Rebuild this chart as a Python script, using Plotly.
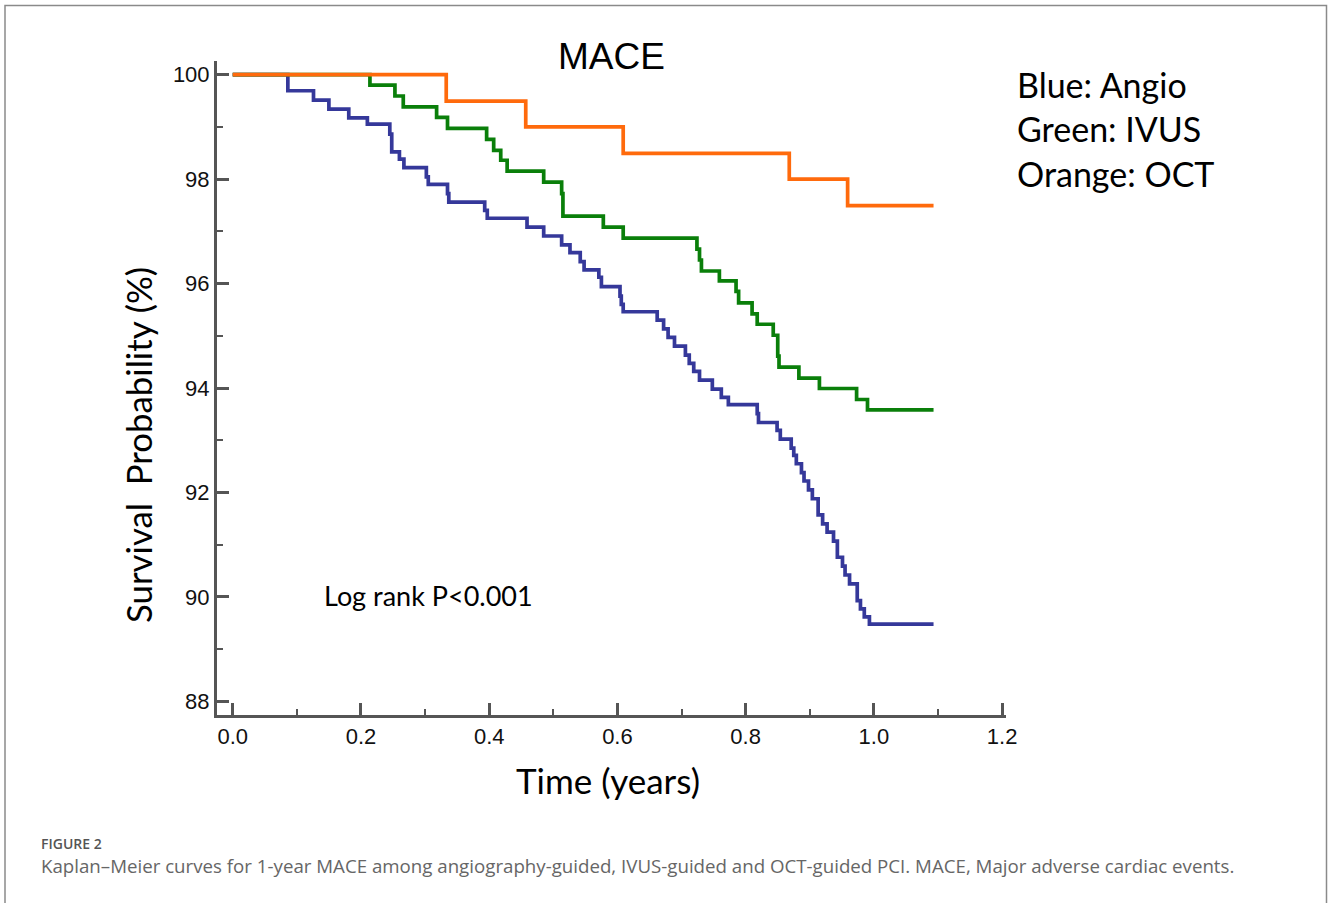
import plotly.graph_objects as go

# ---------------- data ----------------
angio_t = [0, 0.086, 0.126, 0.150, 0.181, 0.210, 0.245, 0.248, 0.260, 0.267, 0.302, 0.305,
           0.335, 0.337, 0.393, 0.397, 0.459, 0.485, 0.513, 0.526, 0.542, 0.548, 0.571, 0.575,
           0.604, 0.606, 0.609, 0.662, 0.672, 0.679, 0.689, 0.706, 0.712, 0.719, 0.728, 0.748,
           0.762, 0.773, 0.818, 0.820, 0.849, 0.854, 0.871, 0.875, 0.879, 0.887, 0.891, 0.898,
           0.904, 0.913, 0.920, 0.927, 0.937, 0.943, 0.951, 0.955, 0.962, 0.974, 0.979, 0.985,
           0.993, 1.093]
angio_s = [100, 99.69, 99.51, 99.34, 99.17, 99.05, 98.86, 98.52, 98.38, 98.22, 98.04, 97.90,
           97.72, 97.56, 97.40, 97.25, 97.08, 96.91, 96.74, 96.59, 96.42, 96.26, 96.12, 95.94,
           95.76, 95.60, 95.46, 95.30, 95.13, 94.97, 94.80, 94.63, 94.47, 94.32, 94.15, 93.98,
           93.82, 93.68, 93.51, 93.34, 93.19, 93.02, 92.85, 92.71, 92.55, 92.38, 92.22, 92.05,
           91.88, 91.57, 91.40, 91.24, 91.07, 90.76, 90.59, 90.42, 90.25, 89.93, 89.77, 89.62,
           89.48, 89.48]

ivus_t = [0, 0.214, 0.253, 0.266, 0.318, 0.335, 0.396, 0.407, 0.418, 0.428, 0.485, 0.513,
          0.515, 0.578, 0.609, 0.724, 0.728, 0.731, 0.759, 0.785, 0.789, 0.810, 0.818, 0.843,
          0.850, 0.852, 0.883, 0.915, 0.973, 0.990, 1.093]
ivus_s = [100, 99.80, 99.59, 99.38, 99.18, 98.97, 98.76, 98.55, 98.36, 98.15, 97.94, 97.72,
          97.29, 97.08, 96.87, 96.66, 96.45, 96.24, 96.05, 95.85, 95.63, 95.42, 95.22, 95.01,
          94.61, 94.40, 94.19, 93.99, 93.78, 93.58, 93.58]

oct_t = [0, 0.333, 0.457, 0.609, 0.868, 0.959, 1.093]
oct_s = [100, 99.49, 99.00, 98.49, 98.00, 97.49, 97.49]

x_ticks = [0.0, 0.2, 0.4, 0.6, 0.8, 1.0, 1.2]
x_tick_labels = ["0.0", "0.2", "0.4", "0.6", "0.8", "1.0", "1.2"]
y_ticks = [88, 90, 92, 94, 96, 98, 100]
y_tick_labels = ["88", "90", "92", "94", "96", "98", "100"]

# ---------------- layout geometry ----------------
W, H = 1328, 903
ML, MR, MT, MB = 217, 322, 61, 188
PW, PH = W - ML - MR, H - MT - MB


def px(x):
    return (x - ML) / PW


def py(y):
    return (H - MB - y) / PH


AXC = "#555555"
CAL = "Lato, Carlito, Calibri, sans-serif"
ARI = "Liberation Sans, Arial, sans-serif"
NAR = "Liberation Sans Narrow, Arial Narrow, Liberation Sans, sans-serif"

fig = go.Figure()
for t, s, c, name in [(angio_t, angio_s, "#35389a", "Angio"),
                      (ivus_t, ivus_s, "#0a7f0a", "IVUS"),
                      (oct_t, oct_s, "#ff6a0c", "OCT")]:
    fig.add_trace(go.Scatter(x=t, y=s, mode="lines", name=name,
                             line=dict(shape="hv", color=c, width=3.7),
                             showlegend=False, hoverinfo="skip"))

fig.update_xaxes(range=[-0.0245, 1.206], showline=True, linecolor=AXC, linewidth=3,
                 showgrid=False, zeroline=False, ticks="inside", ticklen=12, tickwidth=3,
                 tickcolor=AXC, tickvals=x_ticks, ticktext=x_tick_labels,
                 tickfont=dict(family=NAR, size=22, color="#111"),
                 minor=dict(ticks="inside", ticklen=6, tickwidth=2, tickcolor=AXC,
                            dtick=0.1, tick0=0, showgrid=False))
fig.update_yaxes(range=[87.74, 100.26], showline=True, linecolor=AXC, linewidth=3,
                 showgrid=False, zeroline=False, ticks="inside", ticklen=12, tickwidth=3,
                 tickcolor=AXC, tickvals=y_ticks, ticktext=y_tick_labels,
                 tickfont=dict(family=ARI, size=22, color="#111"),
                 minor=dict(ticks="inside", ticklen=6, tickwidth=2, tickcolor=AXC,
                            dtick=1, tick0=88, showgrid=False))

ann = []
ann.append(dict(text="MACE", x=px(611), y=py(57), font=dict(family=ARI, size=37, color="#000"),
                xanchor="center", yanchor="middle"))
for i, line in enumerate(["Blue: Angio", "Green: IVUS", "Orange: OCT"]):
    ann.append(dict(text=line, x=px(1015), y=py(84 + i * 44.5), xanchor="left", yanchor="middle",
                    font=dict(family=CAL, size=34, color="#000")))
ann.append(dict(text="Log rank P<0.001", x=px(322), y=py(595), xanchor="left", yanchor="middle",
                font=dict(family=CAL, size=27, color="#000")))
ann.append(dict(text="Survival\u00a0\u00a0Probability (%)", x=px(138), y=py(445), textangle=-90,
                xanchor="center", yanchor="middle", font=dict(family=CAL, size=34.8, color="#000")))
ann.append(dict(text="Time (years)", x=px(608), y=py(780), xanchor="center", yanchor="middle",
                font=dict(family=CAL, size=35, color="#000")))
ann.append(dict(text="FIGURE 2", x=px(39), y=py(843), xanchor="left", yanchor="middle",
                font=dict(family="Open Sans, sans-serif", size=14, color="#555", weight=600)))
ann.append(dict(text="Kaplan\u2013Meier curves for 1-year MACE among angiography-guided, IVUS-guided "
                     "and OCT-guided PCI. MACE, Major adverse cardiac events.",
                x=px(39), y=py(866), xanchor="left", yanchor="middle",
                font=dict(family="Open Sans, sans-serif", size=18.7, color="#666")))
for a in ann:
    a.update(xref="paper", yref="paper", showarrow=False)

fig.update_layout(
    width=W, height=H, margin=dict(l=ML, r=MR, t=MT, b=MB),
    plot_bgcolor="white", paper_bgcolor="white",
    annotations=ann,
    shapes=[dict(type="rect", xref="paper", yref="paper", x0=px(5), x1=px(1326.5),
                 y0=py(930), y1=py(5.5), line=dict(color="#8a8a8a", width=1.5),
                 fillcolor="rgba(0,0,0,0)", layer="below")],
)

fig.write_html("out.html", config={"displayModeBar": False},
               post_script="document.body.style.margin='0';document.body.style.overflow='hidden';")
